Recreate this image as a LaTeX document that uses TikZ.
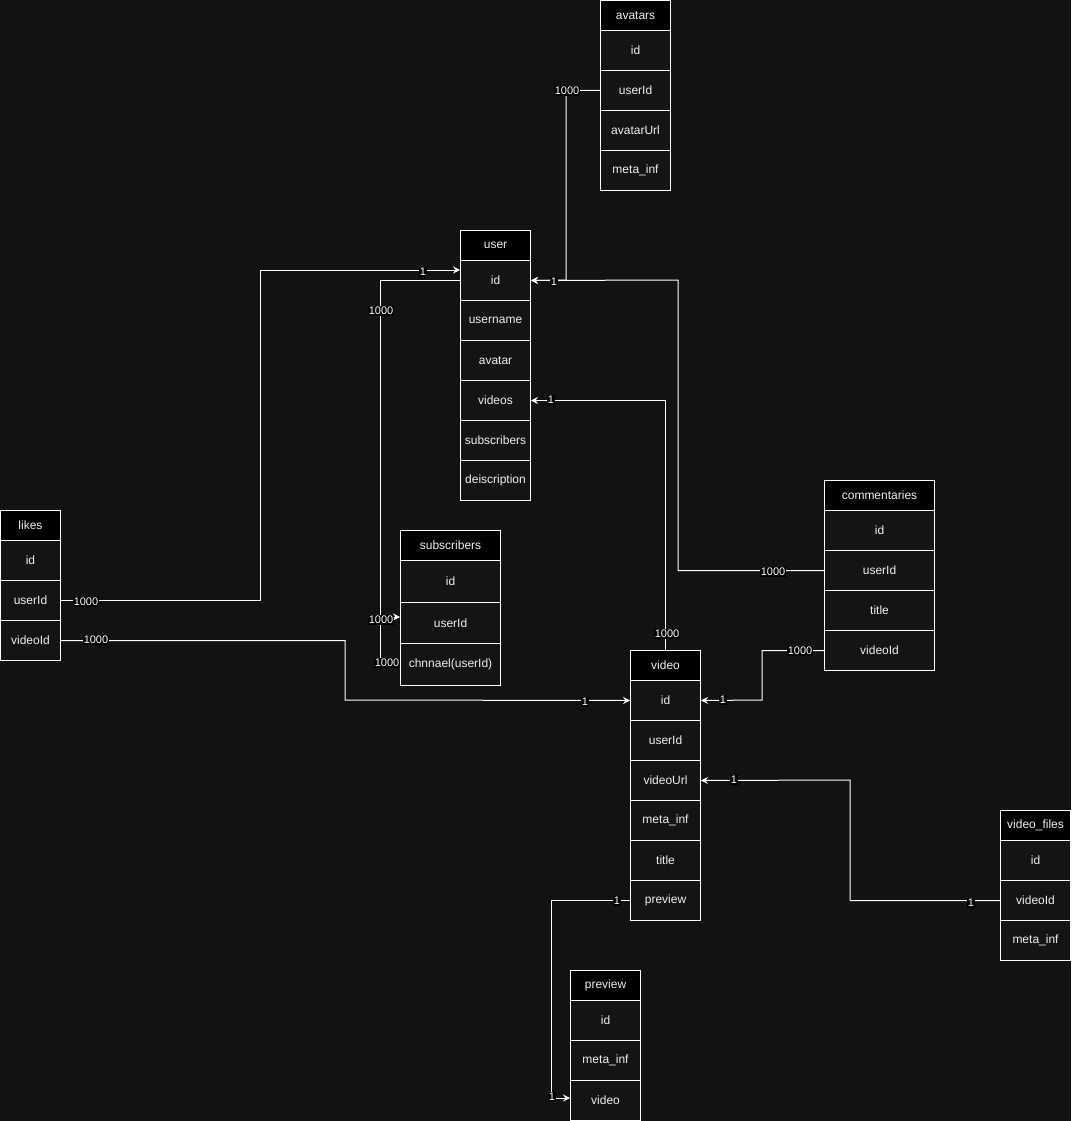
\documentclass[tikz,border=0pt]{standalone}
\usepackage{fontspec}
\setmainfont{Liberation Sans}
\usetikzlibrary{arrows.meta}
\definecolor{bg}{HTML}{121212}
\definecolor{cellbg}{HTML}{141414}
\definecolor{txt}{HTML}{F0F0F0}
\tikzset{
  hdr/.style={draw=white, line width=1pt, fill=black, text=txt, minimum height=30pt, anchor=north west, inner sep=0pt, font=\fontsize{12pt}{14pt}\selectfont},
  row/.style={draw=white, line width=1pt, fill=cellbg, text=txt, minimum height=40pt, anchor=north west, inner sep=0pt, font=\fontsize{12pt}{14pt}\selectfont},
  conn/.style={draw=white, line width=1pt},
  carrow/.style={conn, -{Stealth[length=7pt,width=7pt,inset=2.5pt]}},
  lbl/.style={fill=black, text=white, inner sep=0.8pt, font=\fontsize{11pt}{12pt}\selectfont}
}
\begin{document}
\begin{tikzpicture}[x=1pt,y=-1pt]
\useasboundingbox (0,0) rectangle (1071,1121);
\fill[bg] (0,0) rectangle (1071,1121);

% avatars
\node[hdr, minimum width=70pt] (av-h) at (600,0) {avatars};
\node[row, minimum width=70pt] (av-id) at (600,30) {id};
\node[row, minimum width=70pt] (av-userId) at (600,70) {userId};
\node[row, minimum width=70pt] (av-url) at (600,110) {avatarUrl};
\node[row, minimum width=70pt] (av-meta) at (600,150) {meta\_inf};

% user
\node[hdr, minimum width=70pt] (user-h) at (460,230) {user};
\node[row, minimum width=70pt] (user-id) at (460,260) {id};
\node[row, minimum width=70pt] (user-username) at (460,300) {username};
\node[row, minimum width=70pt] (user-avatar) at (460,340) {avatar};
\node[row, minimum width=70pt] (user-videos) at (460,380) {videos};
\node[row, minimum width=70pt] (user-subs) at (460,420) {subscribers};
\node[row, minimum width=70pt] (user-desc) at (460,460) {deiscription};

% subscribers
\node[hdr, minimum width=100pt] (sub-h) at (400,530) {subscribers};
\node[row, minimum width=100pt, minimum height=41.67pt] (sub-id) at (400,560) {id};
\node[row, minimum width=100pt, minimum height=41.67pt] (sub-userId) at (400,601.67) {userId};
\node[row, minimum width=100pt, minimum height=41.67pt] (sub-ch) at (400,643.33) {chnnael(userId)};

% likes
\node[hdr, minimum width=60pt] (likes-h) at (0,510) {likes};
\node[row, minimum width=60pt] (likes-id) at (0,540) {id};
\node[row, minimum width=60pt] (likes-userId) at (0,580) {userId};
\node[row, minimum width=60pt] (likes-videoId) at (0,620) {videoId};

% commentaries
\node[hdr, minimum width=110pt] (com-h) at (824,480) {commentaries};
\node[row, minimum width=110pt] (com-id) at (824,510) {id};
\node[row, minimum width=110pt] (com-userId) at (824,550) {userId};
\node[row, minimum width=110pt] (com-title) at (824,590) {title};
\node[row, minimum width=110pt] (com-videoId) at (824,630) {videoId};

% video
\node[hdr, minimum width=70pt] (video-h) at (630,650) {video};
\node[row, minimum width=70pt] (video-id) at (630,680) {id};
\node[row, minimum width=70pt] (video-userId) at (630,720) {userId};
\node[row, minimum width=70pt] (video-videoUrl) at (630,760) {videoUrl};
\node[row, minimum width=70pt] (video-meta) at (630,800) {meta\_inf};
\node[row, minimum width=70pt] (video-title) at (630,840) {title};
\node[row, minimum width=70pt] (video-preview) at (630,880) {preview};

% video_files
\node[hdr, minimum width=70pt] (vf-h) at (1000,810) {video\_files};
\node[row, minimum width=70pt] (vf-id) at (1000,840) {id};
\node[row, minimum width=70pt] (vf-videoId) at (1000,880) {videoId};
\node[row, minimum width=70pt] (vf-meta) at (1000,920) {meta\_inf};

% preview
\node[hdr, minimum width=70pt] (pv-h) at (570,970) {preview};
\node[row, minimum width=70pt] (pv-id) at (570,1000) {id};
\node[row, minimum width=70pt] (pv-meta) at (570,1040) {meta\_inf};
\node[row, minimum width=70pt] (pv-video) at (570,1080) {video};

% connectors
\draw[carrow] (av-userId.west) -| (566,280) -- (user-id.east);
\draw[carrow] (likes-userId.east) -| (260,270) -- (user-id.west |- 0,270);
\draw[carrow] (user-id.west) -| (380,617) -- (sub-userId.west |- 0,617);
\draw[conn] (380,617) |- (sub-ch.west);
\draw[carrow] (video-h.north) |- (user-videos.east);
\draw[carrow] (com-userId.west) -| (678,280) -- (user-id.east);
\draw[carrow] (com-videoId.west) -| (762,700) -- (video-id.east);
\draw[carrow] (likes-videoId.east) -| (345,700) -- (video-id.west);
\draw[carrow] (vf-videoId.west) -| (850,780) -- (video-videoUrl.east);
\draw[carrow] (video-preview.west) -| (551,1098) -- (pv-video.west |- 0,1098);

% labels
\node[lbl] (l1) at (567,91) {1000};
\node[lbl] (l2) at (554,282) {1};
\node[lbl] (l3) at (86,602) {1000};
\node[lbl] (l4) at (423,272) {1};
\node[lbl] (l5) at (381,311) {1000};
\node[lbl] (l6) at (381,620) {1000};
\node[lbl] (l7) at (387,663) {1000};
\node[lbl] (l8) at (667,634) {1000};
\node[lbl] (l9) at (551,400) {1};
\node[lbl] (l10) at (773,572) {1000};
\node[lbl] (l11) at (800,651) {1000};
\node[lbl] (l12) at (723,700) {1};
\node[lbl] (l13) at (96,640) {1000};
\node[lbl] (l14) at (585,702) {1};
\node[lbl] (l15) at (971,903) {1};
\node[lbl] (l16) at (734,780) {1};
\node[lbl] (l17) at (617,901) {1};
\node[lbl] (l18) at (552,1097) {1};
\end{tikzpicture}
\end{document}
